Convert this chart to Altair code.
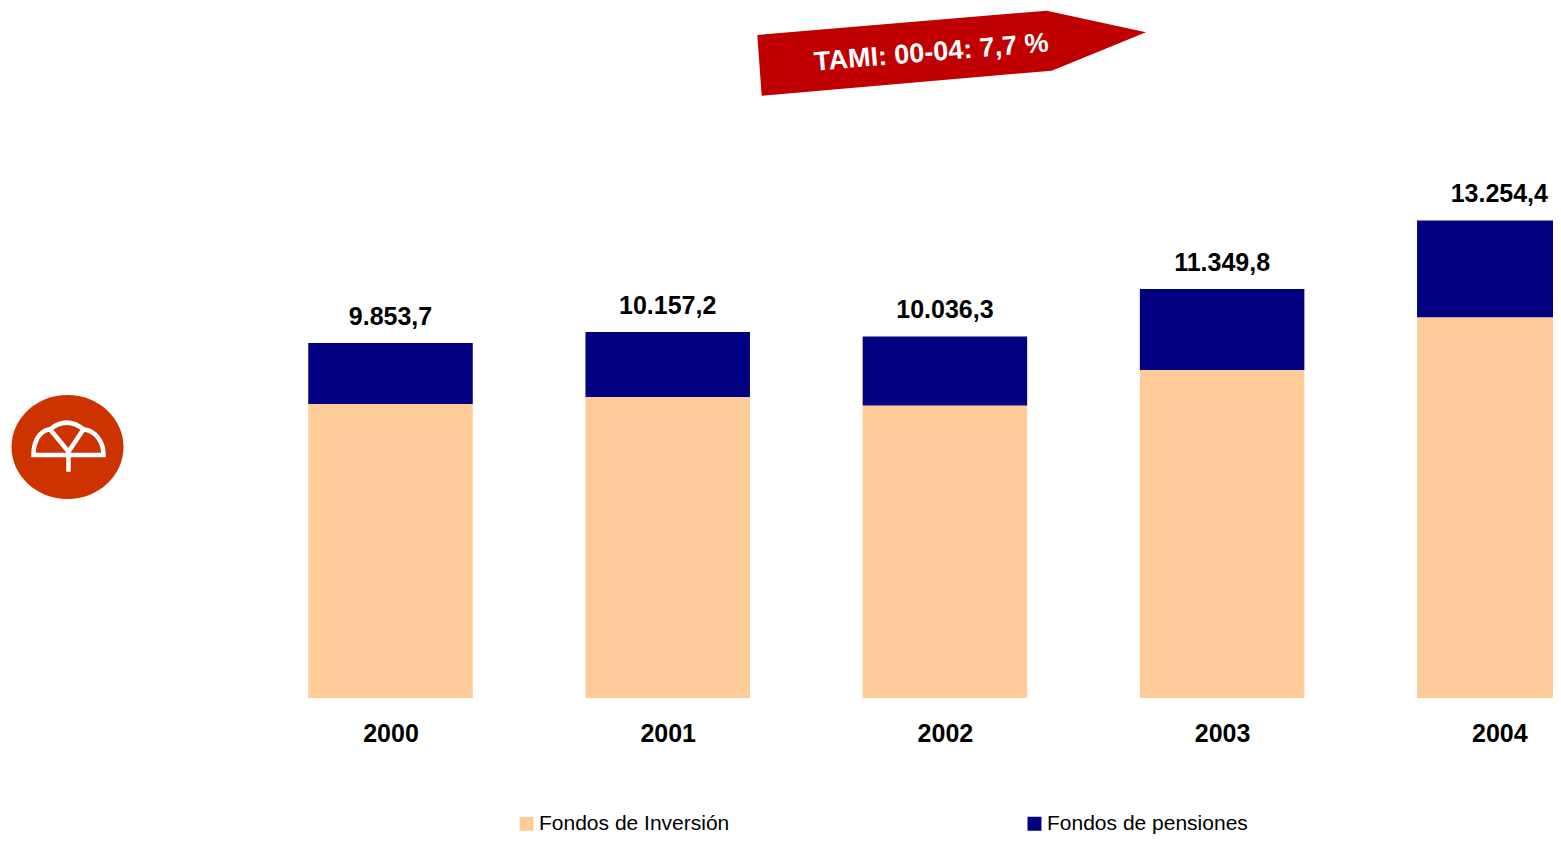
import altair as alt
import pandas as pd

# ---- data ----
years = [2000, 2001, 2002, 2003, 2004]
series = ["Fondos de Inversión", "Fondos de pensiones"]
inversion = [8160.7, 8353.2, 8121.3, 9101.8, 10570.4]
pensiones = [1693.0, 1804.0, 1915.0, 2248.0, 2684.0]
colors = ["#FFCC99", "#000080"]
banner_text = "TAMI: 00-04: 7,7 %"

# decorative shapes (logo and arrow banner), relative SVG paths in pixels
banner_path = "M -192.7 -15 L 96.7 -39.3 L 196 -17.7 L 101.7 20.7 L -188.3 45.7 Z"
logo_path = "M -56 0 A 56 52 0 1 0 56 0 A 56 52 0 1 0 -56 0 Z"
umbrella_path = ("M -34 8 C -34 -6 -28 -16 -17.5 -17.7 Q -0.75 -31 16 -17.7 "
                 "C 28 -16 36 -6 36 8 Z M -17.5 -17.7 L 1 4.7 L 16 -17.7 M 1 4.7 L 1 24.7")


def es(v):
    s = f"{v:,.1f}"
    return s.replace(",", "X").replace(".", ",").replace("X", ".")


rows = []
for i, yr in enumerate(years):
    rows.append({"year": yr, "serie": series[0], "valor": inversion[i], "ord": 0})
    rows.append({"year": yr, "serie": series[1], "valor": pensiones[i], "ord": 1})
df = pd.DataFrame(rows)
tot = pd.DataFrame({"year": years,
                    "total": [round(a + b, 1) for a, b in zip(inversion, pensiones)]})
tot["label"] = tot["total"].map(es)

FONT = "Liberation Sans"
xs = alt.Scale(domain=[1998.6201, 2004.1937], nice=False, zero=False, padding=0)
ys = alt.Scale(domain=[0, 19150], nice=False, zero=True, padding=0)

bars = alt.Chart(df).mark_bar(size=164.5, clip=True).encode(
    x=alt.X("year:Q", scale=xs,
            axis=alt.Axis(values=years, format="d", title=None, labelFontSize=25,
                          labelFontWeight="bold", labelFont=FONT, labelColor="black",
                          ticks=False, tickSize=0, domain=False, grid=False,
                          labelPadding=43, labelBaseline="alphabetic",
                          labelFlush=False, labelOverlap=False)),
    y=alt.Y("valor:Q", stack="zero", scale=ys, axis=None),
    color=alt.Color("serie:N", scale=alt.Scale(domain=series, range=colors),
                    legend=alt.Legend(title=None, orient="none", legendX=508, legendY=805,
                                      direction="horizontal", columns=2, columnPadding=294,
                                      symbolType="square", symbolSize=196,
                                      symbolStrokeWidth=0, symbolOpacity=1,
                                      labelFontSize=21, labelFont=FONT, labelLimit=0,
                                      labelColor="black", labelOffset=2, padding=0)),
    order=alt.Order("ord:Q", sort="ascending"),
)

labels = alt.Chart(tot).mark_text(
    fontSize=25, fontWeight="bold", font=FONT, color="black",
    baseline="alphabetic", align="center", dy=-18,
).encode(x=alt.X("year:Q", scale=xs), y=alt.Y("total:Q", scale=ys), text="label:N")

one = pd.DataFrame({"k": [0]})

banner = alt.Chart(one).mark_point(
    shape=banner_path, size=4, filled=True, color="#C00000", opacity=1, strokeWidth=0,
).encode(x=alt.value(942), y=alt.value(42))

banner_lbl = alt.Chart(one).mark_text(
    text=banner_text, fontSize=27, fontWeight="bold", font=FONT, color="white",
    align="center", baseline="alphabetic", angle=355.3,
).encode(x=alt.value(924), y=alt.value(53))

logo = alt.Chart(one).mark_point(
    shape=logo_path, size=4, filled=True, color="#CC3300", opacity=1, strokeWidth=0,
).encode(x=alt.value(59.5), y=alt.value(439))

umbrella = alt.Chart(one).mark_point(
    shape=umbrella_path, size=4, filled=False, color="white", opacity=1, strokeWidth=4.5,
).encode(x=alt.value(59.5), y=alt.value(439))

chart = alt.layer(bars, labels, banner, banner_lbl, logo, umbrella).properties(
    width=1545, height=690,
    autosize=alt.AutoSizeParams(type="none"),
    padding={"left": 0, "top": 0, "right": 0, "bottom": 136},
).configure(font=FONT, background="white").configure_view(stroke=None, strokeWidth=0)

chart.save("out.html", embed_options={"renderer": "svg", "actions": False})
